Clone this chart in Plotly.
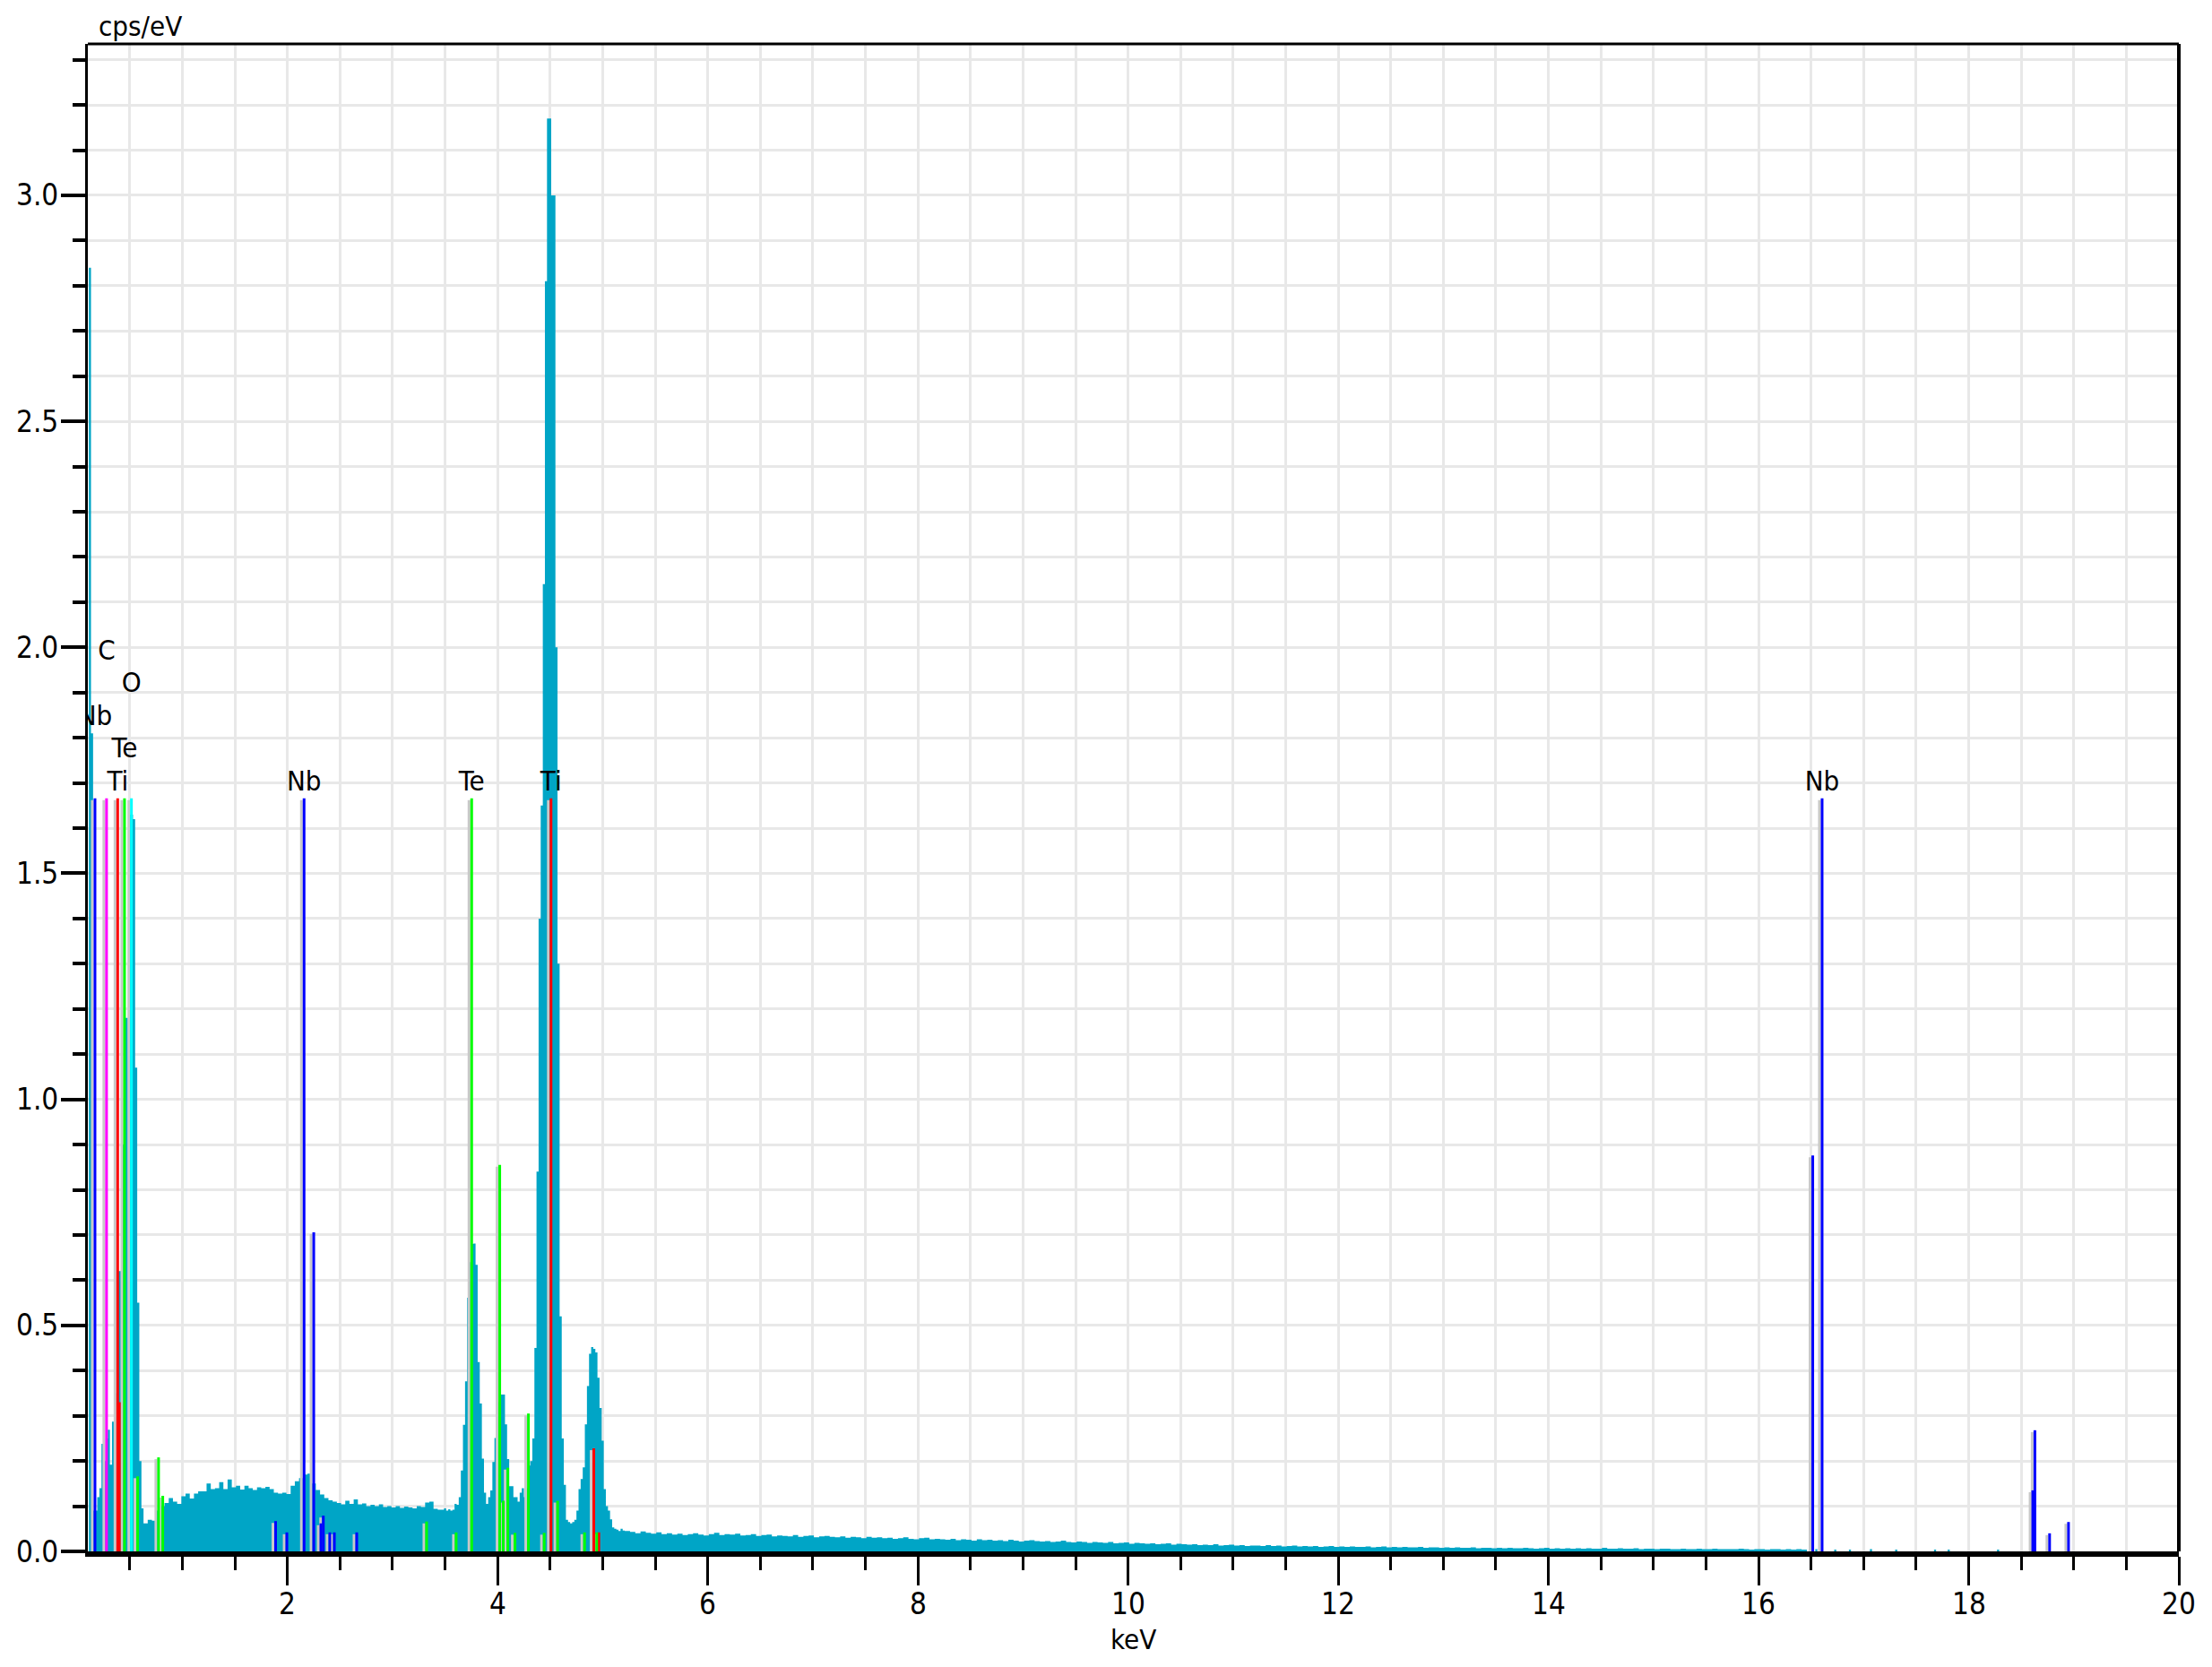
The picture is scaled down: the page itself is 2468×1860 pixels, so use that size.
import plotly.graph_objects as go

# ---------------- spectrum data (cps/eV) ----------------
# low-energy segment: bins of 0.02 keV starting at 0.11 keV
lo_start_keV, lo_step_keV = 0.11, 0.02
lo_cps = [2.84, 1.81, 0.09, 0.09, 0.12, 0.14, 0.238, 0.20, 0.25, 0.269,
          0.192, 0.287, 0.30, 0.35, 0.62, 0.62, 0.90, 1.18, 1.18, 1.63,
          1.63, 1.62, 1.07, 0.55, 0.20, 0.095]

# mid segment: bins of 0.04 keV starting at 0.63 keV
mid_start_keV, mid_step_keV = 0.63, 0.04
mid_cps = [0.062, 0.070, 0.068, 0.090, 0.100, 0.107, 0.118, 0.110, 0.105, 0.122,
           0.128, 0.117, 0.128, 0.133, 0.133, 0.150, 0.138, 0.140, 0.153, 0.138,
           0.159, 0.142, 0.145, 0.137, 0.145, 0.140, 0.136, 0.142, 0.140, 0.143,
           0.138, 0.130, 0.128, 0.130, 0.127, 0.145, 0.155, 0.162, 0.170, 0.172,
           0.150, 0.136, 0.126, 0.118, 0.113, 0.110, 0.107, 0.104, 0.112, 0.105,
           0.115, 0.104, 0.106, 0.100, 0.103, 0.100, 0.104, 0.098, 0.100, 0.097,
           0.100, 0.096, 0.099, 0.097, 0.095, 0.100, 0.098, 0.108, 0.110, 0.094,
           0.092]

# peak segment (Te L, Ti K): bins of 0.02 keV starting at 3.47 keV
pk_start_keV, pk_step_keV = 3.47, 0.02
pk_cps = [0.092, 0.095, 0.090, 0.093, 0.090, 0.092, 0.105, 0.103, 0.120, 0.179,
          0.280, 0.376, 0.561, 0.640, 0.680, 0.681, 0.634, 0.419, 0.327, 0.205,
          0.130, 0.105, 0.120, 0.135, 0.198, 0.251, 0.300, 0.330, 0.347, 0.347,
          0.281, 0.204, 0.144, 0.144, 0.120, 0.120, 0.110, 0.130, 0.140, 0.120,
          0.140, 0.190, 0.200, 0.250, 0.450, 0.840, 1.400, 1.650, 2.140, 2.810,
          3.170, 3.170, 3.000, 3.000, 2.000, 1.300, 0.520, 0.250, 0.147, 0.070,
          0.065, 0.062, 0.065, 0.070, 0.090, 0.138, 0.160, 0.186, 0.281, 0.366,
          0.437, 0.452, 0.448, 0.440, 0.384, 0.317, 0.245, 0.138, 0.100, 0.090,
          0.071, 0.053, 0.050, 0.048, 0.045, 0.050, 0.046]

# high-energy background: bins of 0.05 keV starting at 5.21 keV
hi_start_keV, hi_step_keV = 5.21, 0.05
hi_cps = [0.045, 0.043, 0.040, 0.044, 0.041, 0.039, 0.042, 0.038, 0.040, 0.037,
          0.039, 0.036, 0.038, 0.040, 0.037, 0.035, 0.038, 0.041, 0.036, 0.038,
          0.037, 0.039, 0.035, 0.036, 0.038, 0.034, 0.036, 0.037, 0.033, 0.035,
          0.034, 0.033, 0.036, 0.032, 0.034, 0.035, 0.031, 0.033, 0.034, 0.032,
          0.031, 0.033, 0.030, 0.032, 0.031, 0.029, 0.032, 0.030, 0.031, 0.029,
          0.030, 0.028, 0.029, 0.031, 0.028, 0.027, 0.029, 0.030, 0.027, 0.028,
          0.027, 0.026, 0.028, 0.025, 0.027, 0.026, 0.024, 0.027, 0.025, 0.026,
          0.024, 0.025, 0.023, 0.026, 0.024, 0.022, 0.024, 0.025, 0.023, 0.022,
          0.023, 0.021, 0.022, 0.024, 0.021, 0.020, 0.022, 0.021, 0.019, 0.021,
          0.020, 0.019, 0.021, 0.018, 0.019, 0.020, 0.017, 0.019, 0.018, 0.017,
          0.018, 0.016, 0.017, 0.018, 0.015, 0.017, 0.016, 0.015, 0.016, 0.014,
          0.015, 0.014, 0.016, 0.013, 0.014, 0.015, 0.013, 0.014, 0.012, 0.013,
          0.013, 0.012, 0.014, 0.012, 0.013, 0.011, 0.012, 0.013, 0.011, 0.012,
          0.011, 0.012, 0.010, 0.011, 0.012, 0.010, 0.011, 0.010, 0.011, 0.010,
          0.010, 0.011, 0.009, 0.010, 0.011, 0.009, 0.010, 0.009, 0.010, 0.009,
          0.009, 0.010, 0.008, 0.009, 0.009, 0.008, 0.009, 0.008, 0.009, 0.008,
          0.008, 0.009, 0.007, 0.008, 0.008, 0.007, 0.008, 0.007, 0.008, 0.007,
          0.007, 0.008, 0.007, 0.006, 0.007, 0.008, 0.006, 0.007, 0.006, 0.007,
          0.006, 0.007, 0.006, 0.007, 0.006, 0.006, 0.008, 0.006, 0.006, 0.007,
          0.006, 0.006, 0.007, 0.005, 0.006, 0.006, 0.005, 0.006, 0.006, 0.005,
          0.005, 0.006, 0.005, 0.005, 0.006, 0.005, 0.005, 0.006, 0.005, 0.005,
          0.005, 0.005, 0.006, 0.005, 0.004, 0.005, 0.005, 0.004, 0.005, 0.005,
          0.004, 0.005, 0.004, 0.005, 0.004]

# isolated counts above 16.5 keV
tail_keV = [16.55, 16.73, 16.87, 17.07, 17.31, 17.68, 17.81, 18.28]
tail_cps = [0.005, 0.004, 0.004, 0.005, 0.004, 0.004, 0.004, 0.004]

# ---------------- element marker lines ----------------
nb_keV = [0.168, 1.887, 1.994, 2.158, 2.250, 2.318, 2.341, 2.403, 2.446, 2.659,
          16.516, 16.605, 18.610, 18.630, 18.770, 18.950]
nb_h = [1.666, 0.067, 0.042, 1.666, 0.706, 0.062, 0.079, 0.042, 0.042, 0.042,
        0.876, 1.666, 0.135, 0.268, 0.040, 0.065]
c_keV = [0.278]
c_h = [1.666]
o_keV = [0.515]
o_h = [1.666]
ti_keV = [0.384, 0.400, 4.508, 4.915, 4.963]
ti_h = [1.666, 0.330, 1.666, 0.228, 0.042]
te_keV = [0.449, 0.574, 0.773, 0.813, 3.324, 3.605, 3.753, 4.020, 4.054, 4.097,
          4.165, 4.293, 4.443, 4.571, 4.827, 4.943]
te_h = [1.666, 0.166, 0.208, 0.123, 0.066, 0.042, 1.666, 0.855, 0.112, 0.185,
        0.041, 0.305, 0.041, 0.112, 0.042, 0.042]

label_text = ["C", "O", "Nb", "Te", "Ti", "Nb", "Te", "Ti", "Nb"]
label_keV = [0.278, 0.515, 0.168, 0.449, 0.384, 2.158, 3.753, 4.508, 16.605]
label_h = [1.666, 1.666, 1.666, 1.666, 1.666, 1.666, 1.666, 1.666, 1.666]

x_ticks = [2, 4, 6, 8, 10, 12, 14, 16, 18, 20]
x_tick_text = ["2", "4", "6", "8", "10", "12", "14", "16", "18", "20"]
y_ticks = [0.0, 0.5, 1.0, 1.5, 2.0, 2.5, 3.0]
y_tick_text = ["0.0", "0.5", "1.0", "1.5", "2.0", "2.5", "3.0"]

# ---------------- layout geometry ----------------
W, H = 2468, 1860
ML, MR, MT, MB = 98, 37, 49, 129
X0, X1 = 0.1, 20.0
Y0, Y1 = 0.0, 3.335
PW, PH = W - ML - MR, H - MT - MB
px_per_keV = PW / (X1 - X0)
px_per_unit = PH / (Y1 - Y0)
FONT = "DejaVu Sans Condensed, DejaVu Sans, sans-serif"
SPEC = "rgb(0,165,198)"
GRID = "rgb(232,232,232)"

# build stepped spectrum outline
sx, sy = [], []
for start, step, vals in [(lo_start_keV, lo_step_keV, lo_cps),
                          (mid_start_keV, mid_step_keV, mid_cps),
                          (pk_start_keV, pk_step_keV, pk_cps),
                          (hi_start_keV, hi_step_keV, hi_cps)]:
    for i, v in enumerate(vals):
        sx.append(start + i * step)
        sy.append(v)
sx.append(hi_start_keV + len(hi_cps) * hi_step_keV)
sy.append(0.0)
for e, v in zip(tail_keV, tail_cps):
    sx += [e - 0.01, e + 0.01]
    sy += [v, 0.0]
sx.append(X1)
sy.append(0.0)

fig = go.Figure()
fig.add_trace(go.Scatter(x=sx, y=sy, mode="lines", line=dict(shape="hv", width=0, color=SPEC),
                         fill="tozeroy", fillcolor=SPEC, hoverinfo="skip", showlegend=False))

families = [(nb_keV, nb_h, "rgb(0,0,255)"), (c_keV, c_h, "rgb(255,0,255)"),
            (o_keV, o_h, "rgb(0,255,255)"), (ti_keV, ti_h, "rgb(255,0,0)"),
            (te_keV, te_h, "rgb(0,255,0)")]

shadow_dx = 3.0 / px_per_keV
shx, shy = [], []
for ks, hs, col in families:
    for k, h in zip(ks, hs):
        shx += [k - shadow_dx, k - shadow_dx, None]
        shy += [0, h - 0.004, None]
fig.add_trace(go.Scatter(x=shx, y=shy, mode="lines", line=dict(color="rgb(200,200,200)", width=3),
                         hoverinfo="skip", showlegend=False))
for ks, hs, col in families:
    lx, ly = [], []
    for k, h in zip(ks, hs):
        lx += [k, k, None]
        ly += [0, h, None]
    fig.add_trace(go.Scatter(x=lx, y=ly, mode="lines", line=dict(color=col, width=3),
                             hoverinfo="skip", showlegend=False))

label_level = [4, 3, 2, 1, 0, 0, 0, 0, 0]
lab_y = [h + (16.5 + 36.6 * lv) / px_per_unit for h, lv in zip(label_h, label_level)]
fig.add_trace(go.Scatter(x=label_keV, y=lab_y, mode="text", text=label_text,
                         textposition="middle center",
                         textfont=dict(family=FONT, size=31, color="black"),
                         hoverinfo="skip", showlegend=False, cliponaxis=True))

annotations = [
    dict(text="cps/eV", xref="paper", yref="paper", x=(108 - ML) / PW, y=1.0,
         xanchor="left", yanchor="bottom", showarrow=False,
         font=dict(family=FONT, size=31, color="black")),
    dict(text="keV", xref="paper", yref="paper", x=0.5, y=-(1829 - (H - MB)) / PH,
         xanchor="center", yanchor="middle", showarrow=False,
         font=dict(family=FONT, size=31, color="black")),
]
for t, s in zip(x_ticks, x_tick_text):
    annotations.append(dict(text=s, xref="x", yref="paper", x=t, y=-(1789 - (H - MB)) / PH,
                            xanchor="center", yanchor="middle", showarrow=False,
                            font=dict(family=FONT, size=33, color="black")))
for t, s in zip(y_ticks, y_tick_text):
    annotations.append(dict(text=s, xref="paper", yref="y", x=(67 - ML) / PW, y=t,
                            xanchor="right", yanchor="middle", showarrow=False,
                            font=dict(family=FONT, size=33, color="black")))

fig.update_layout(
    width=W, height=H, autosize=False,
    margin=dict(l=ML, r=MR, t=MT, b=MB, pad=0),
    paper_bgcolor="white", plot_bgcolor="white",
    font=dict(family=FONT, size=32, color="black"),
    showlegend=False,
    xaxis=dict(range=[X0, X1], showline=True, linecolor="black", linewidth=6,
               ticks="outside", tickmode="array", tickvals=x_ticks,
               showticklabels=False,
               ticklen=32, tickwidth=3, tickcolor="black",
               showgrid=True, gridcolor=GRID, gridwidth=3, zeroline=False,
               minor=dict(tick0=0, dtick=0.5, ticks="outside", ticklen=15, tickwidth=3,
                          tickcolor="black", showgrid=True, gridcolor=GRID, gridwidth=3)),
    yaxis=dict(range=[Y0, Y1], showline=True, linecolor="black", linewidth=3,
               ticks="outside", tickmode="array", tickvals=y_ticks,
               showticklabels=False,
               ticklen=27, tickwidth=3.5, tickcolor="black",
               showgrid=True, gridcolor=GRID, gridwidth=3, zeroline=False,
               minor=dict(tick0=0, dtick=0.1, ticks="outside", ticklen=14, tickwidth=3.5,
                          tickcolor="black", showgrid=True, gridcolor=GRID, gridwidth=3)),
    shapes=[dict(type="line", xref="paper", yref="paper", x0=0, x1=1, y0=1, y1=1,
                 line=dict(color="black", width=3)),
            dict(type="line", xref="paper", yref="paper", x0=1, x1=1, y0=0, y1=1,
                 line=dict(color="black", width=4))],
    annotations=annotations,
)

fig.write_html("out.html", config={"displayModeBar": False},
               post_script="document.body.style.margin='0';")
